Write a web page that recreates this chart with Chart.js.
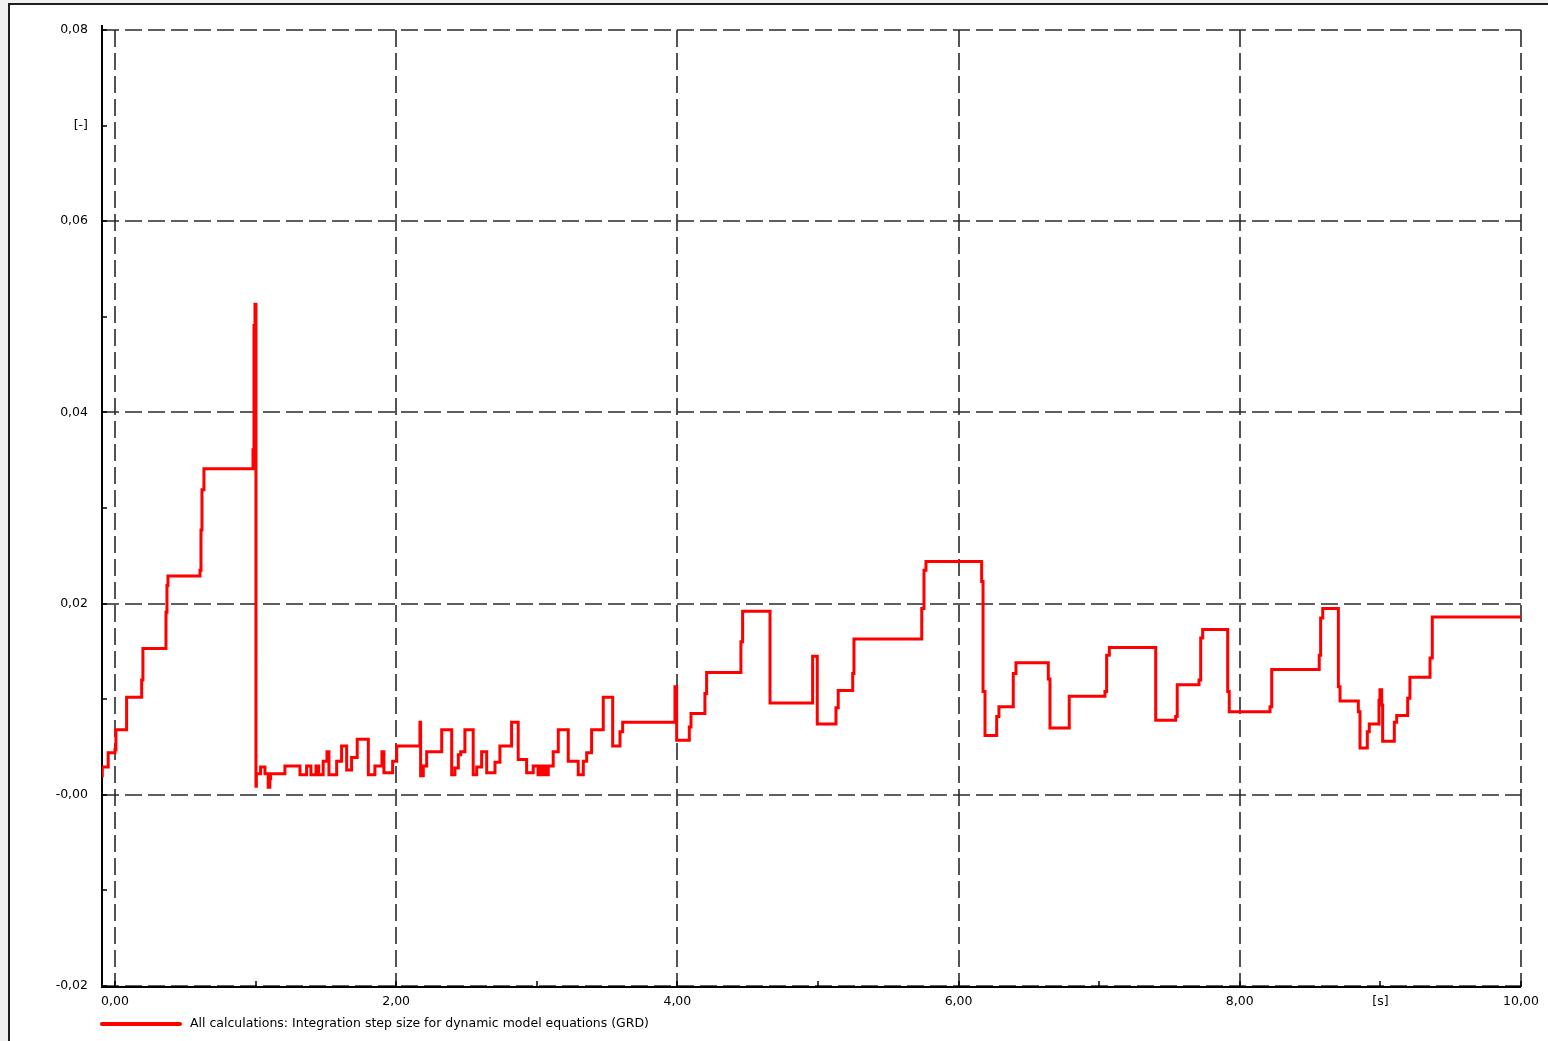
<!DOCTYPE html>
<html>
<head>
<meta charset="utf-8">
<title>Integration step size</title>
<script src="https://cdn.jsdelivr.net/npm/chart.js@4.4.0/dist/chart.umd.min.js"></script>
<style>
    body { margin: 0; background: #f0f0f0; overflow: hidden; }
    .marco { position: absolute; left: 8px; top: 3px; width: 1600px; height: 1100px; background: #fff; border: 2px solid #1e1e1e; }
    #grafico { position: absolute; left: 0; top: 0; }
</style>
</head>
<body>
<div class="marco"></div>
<canvas id="grafico" width="1548" height="1041"></canvas>
<script>
// tiempo [s] en que empieza cada escalon y paso de integracion [-]
const tiempos = [
    -0.092, -0.090, -0.048, 0.000, 0.007, 0.083, 0.190, 0.199, 0.363, 0.370,
    0.377, 0.605, 0.612, 0.619, 0.633, 0.982, 0.989, 0.996, 1.003, 1.006,
    1.036, 1.067, 1.090, 1.102, 1.107, 1.209, 1.316, 1.363, 1.394, 1.430,
    1.449, 1.481, 1.508, 1.522, 1.577, 1.612, 1.648, 1.683, 1.723, 1.802,
    1.849, 1.899, 1.913, 1.975, 2.004, 2.169, 2.174, 2.193, 2.217, 2.324,
    2.395, 2.418, 2.442, 2.459, 2.489, 2.548, 2.573, 2.608, 2.644, 2.703,
    2.738, 2.821, 2.868, 2.928, 2.975, 3.009, 3.030, 3.044, 3.058, 3.065,
    3.082, 3.117, 3.153, 3.224, 3.295, 3.331, 3.355, 3.390, 3.473, 3.540,
    3.592, 3.611, 3.983, 3.995, 4.085, 4.097, 4.196, 4.208, 4.452, 4.464,
    4.659, 4.962, 4.995, 5.128, 5.144, 5.247, 5.256, 5.738, 5.754, 5.768,
    6.164, 6.174, 6.188, 6.271, 6.287, 6.389, 6.408, 6.638, 6.650, 6.787,
    7.041, 7.053, 7.072, 7.402, 7.544, 7.555, 7.710, 7.722, 7.736, 7.914,
    7.925, 8.215, 8.227, 8.565, 8.575, 8.590, 8.701, 8.713, 8.843, 8.855,
    8.907, 8.921, 8.990, 8.997, 9.009, 9.016, 9.099, 9.116, 9.194, 9.210,
    9.353, 9.369, 10.000
];
const pasos = [
    0.0020, 0.0029, 0.0044, 0.0047, 0.0068, 0.0102, 0.0120, 0.0153, 0.0191, 0.0219,
    0.0229, 0.0235, 0.0277, 0.0319, 0.0341, 0.0361, 0.0491, 0.0513, 0.0009, 0.0022,
    0.0029, 0.0022, 0.0008, 0.0017, 0.0022, 0.0030, 0.0021, 0.0030, 0.0021, 0.0030,
    0.0021, 0.0035, 0.0045, 0.0021, 0.0035, 0.0051, 0.0026, 0.0039, 0.0058, 0.0021,
    0.0030, 0.0045, 0.0023, 0.0035, 0.0051, 0.0076, 0.0020, 0.0030, 0.0045, 0.0068,
    0.0021, 0.0028, 0.0042, 0.0045, 0.0068, 0.0021, 0.0029, 0.0045, 0.0023, 0.0034,
    0.0051, 0.0076, 0.0037, 0.0023, 0.0030, 0.0021, 0.0030, 0.0021, 0.0030, 0.0021,
    0.0030, 0.0045, 0.0068, 0.0035, 0.0021, 0.0035, 0.0044, 0.0068, 0.0102, 0.0051,
    0.0066, 0.0076, 0.0113, 0.0057, 0.0071, 0.0085, 0.0106, 0.0128, 0.0160, 0.0192,
    0.0096, 0.0145, 0.0074, 0.0091, 0.0109, 0.0127, 0.0163, 0.0195, 0.0235, 0.0244,
    0.0223, 0.0108, 0.0062, 0.0082, 0.0092, 0.0127, 0.0138, 0.0121, 0.0070, 0.0103,
    0.0108, 0.0146, 0.0154, 0.0078, 0.0082, 0.0115, 0.0120, 0.0164, 0.0173, 0.0108,
    0.0087, 0.0092, 0.0131, 0.0146, 0.0185, 0.0195, 0.0113, 0.0098, 0.0087, 0.0049,
    0.0066, 0.0074, 0.0099, 0.0110, 0.0094, 0.0056, 0.0076, 0.0083, 0.0101, 0.0123,
    0.0143, 0.0186, 0.0186
];

// marcas de los ejes
const marcasX = [0, 1, 2, 3, 4, 5, 6, 7, 8, 9, 10];
const marcasY = [-0.02, -0.01, 0.00, 0.01, 0.02, 0.03, 0.04, 0.05, 0.06, 0.07, 0.08];
const unidadX = "[s]";
const unidadY = "[-]";
const titulo = "All calculations: Integration step size for dynamic model equations (GRD)";

const fuente = { family: "'DejaVu Sans', sans-serif", size: 12.5 };
const coma = v => v.toFixed(2).replace(".", ",");

// rejilla discontinua, ejes con marcas hacia dentro y leyenda
const ejesPlugin = {
    id: "ejes",
    beforeDatasetsDraw(chart) {
        const { ctx, chartArea: a, scales: { x, y } } = chart;
        ctx.save();
        ctx.strokeStyle = "#2a2a2a";
        ctx.lineWidth = 1.6;
        ctx.setLineDash([17, 6]);
        marcasY.forEach(v => {
            if (Math.round(v * 100) % 2 !== 0) return;
            const py = Math.round(y.getPixelForValue(v));
            ctx.beginPath();
            ctx.moveTo(a.left, py);
            ctx.lineTo(a.right, py);
            ctx.stroke();
        });
        marcasX.forEach(v => {
            if (v % 2 !== 0) return;
            const px = Math.round(x.getPixelForValue(v));
            ctx.beginPath();
            ctx.moveTo(px, a.top);
            ctx.lineTo(px, a.bottom);
            ctx.stroke();
        });
        ctx.setLineDash([]);

        // ejes
        ctx.strokeStyle = "#000";
        ctx.lineWidth = 2;
        const ejeX = Math.round(a.bottom) + 1;
        ctx.beginPath();
        ctx.moveTo(a.left, a.top - 5);
        ctx.lineTo(a.left, ejeX);
        ctx.lineTo(a.right, ejeX);
        ctx.stroke();

        ctx.lineWidth = 1.5;
        marcasY.forEach(v => {
            const py = Math.round(y.getPixelForValue(v));
            ctx.beginPath();
            ctx.moveTo(a.left, py);
            ctx.lineTo(a.left + 5, py);
            ctx.stroke();
        });
        marcasX.forEach(v => {
            const px = Math.round(x.getPixelForValue(v));
            ctx.beginPath();
            ctx.moveTo(px, ejeX);
            ctx.lineTo(px, ejeX - 6);
            ctx.stroke();
        });
        ctx.restore();
    },
    afterDraw(chart) {
        const ctx = chart.ctx;
        const ds = chart.data.datasets[0];
        ctx.save();
        ctx.strokeStyle = ds.borderColor;
        ctx.lineWidth = 4;
        ctx.lineCap = "round";
        ctx.beginPath();
        ctx.moveTo(102, 1024);
        ctx.lineTo(180, 1024);
        ctx.stroke();
        ctx.fillStyle = "#000";
        ctx.font = `${fuente.size}px ${fuente.family}`;
        ctx.textBaseline = "middle";
        ctx.fillText(ds.label, 190, 1024);
        ctx.restore();
    }
};

const ctx = document.getElementById("grafico").getContext("2d");
new Chart(ctx, {
    type: "line",
    data: {
        datasets: [{
            label: titulo,
            data: tiempos.map((t, i) => ({ x: t, y: pasos[i] })),
            borderColor: "#ff0000",
            borderWidth: 3,
            pointRadius: 0,
            stepped: "before",
            fill: false
        }]
    },
    options: {
        responsive: false,
        animation: false,
        devicePixelRatio: 1,
        layout: { padding: { top: 30, right: 27, left: 0, bottom: 0 } },
        plugins: {
            legend: { display: false },
            tooltip: { enabled: false }
        },
        scales: {
            x: {
                type: "linear",
                min: -0.092,
                max: 10,
                afterBuildTicks: s => { s.ticks = marcasX.map(v => ({ value: v })); },
                afterFit: s => { s.height = 55; },
                grid: { display: false, drawTicks: false },
                border: { display: false },
                ticks: {
                    autoSkip: false,
                    maxRotation: 0,
                    padding: 8,
                    color: "#000",
                    font: fuente,
                    callback: v => {
                        const n = Math.round(v);
                        if (n === 9) return unidadX;
                        return n % 2 === 0 ? coma(v) : "";
                    }
                }
            },
            y: {
                min: -0.02,
                max: 0.08,
                afterBuildTicks: s => { s.ticks = marcasY.map(v => ({ value: v })); },
                afterFit: s => { s.width = 102; },
                grid: { display: false, drawTicks: false },
                border: { display: false },
                ticks: {
                    autoSkip: false,
                    padding: 14,
                    color: "#000",
                    font: fuente,
                    callback: v => {
                        const c = Math.round(v * 100);
                        if (c === 7) return unidadY;
                        if (c % 2 !== 0) return "";
                        if (c === 0) return "-0,00";
                        return coma(c / 100);
                    }
                }
            }
        }
    },
    plugins: [ejesPlugin]
});
</script>
</body>
</html>
